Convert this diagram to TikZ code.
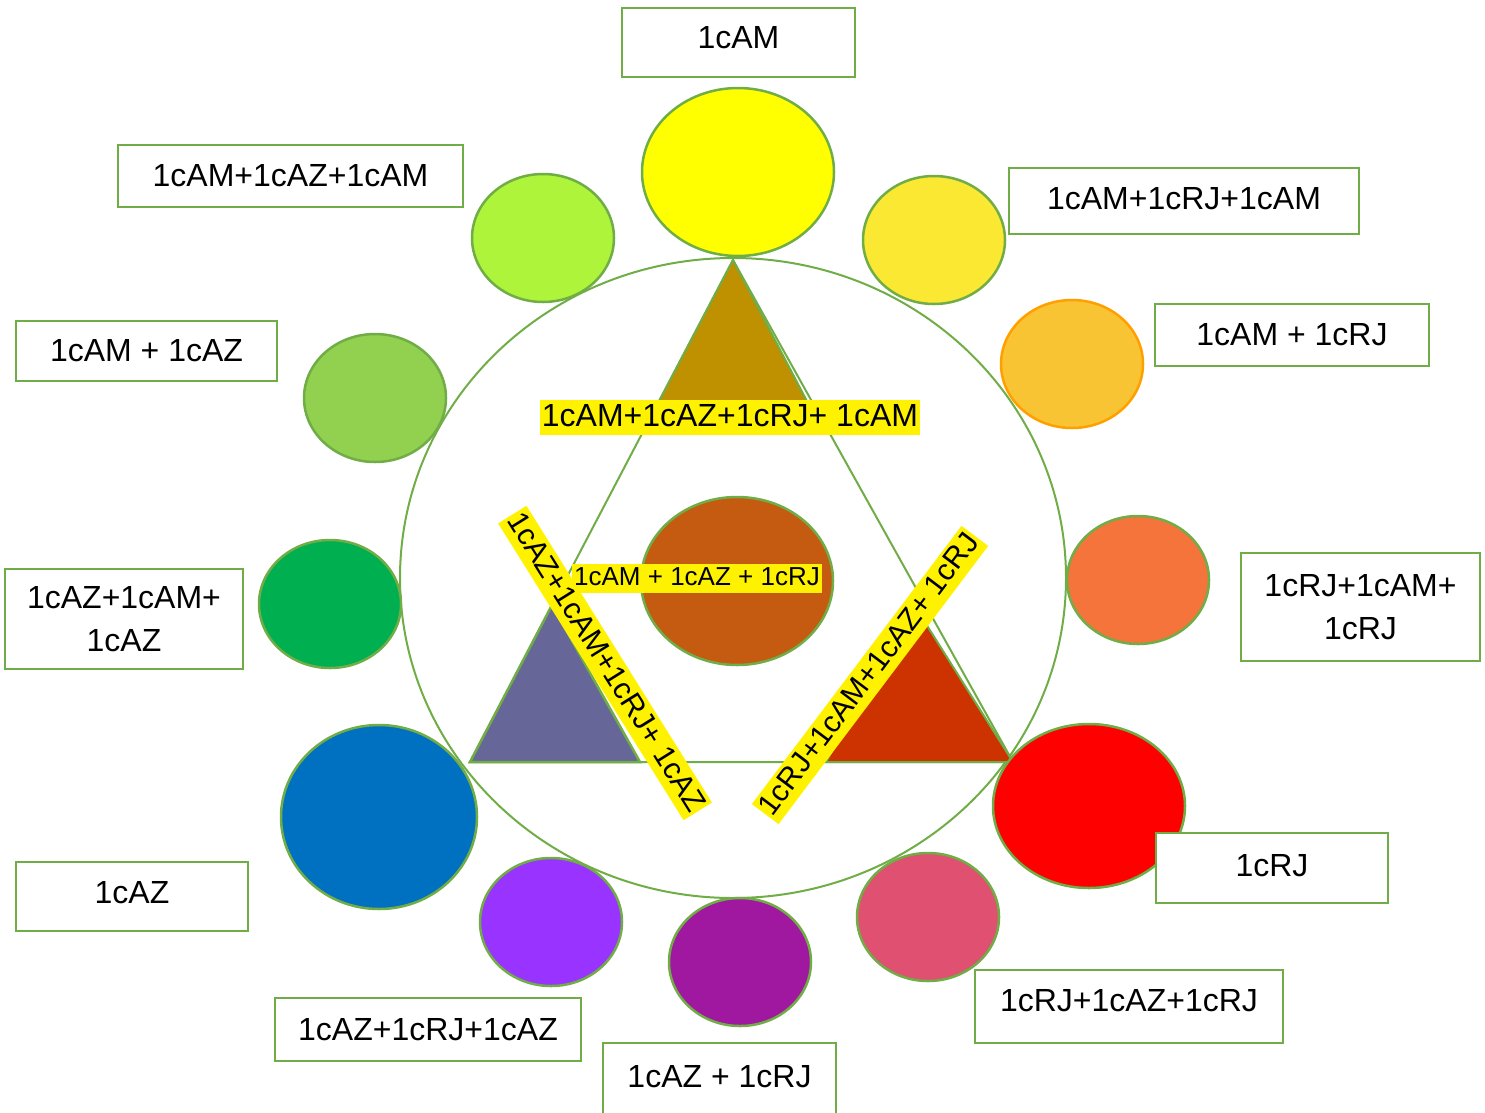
\documentclass[tikz,border=0pt]{standalone}
\usepackage{fontspec}
\setmainfont{Liberation Sans}
\usetikzlibrary{shapes.geometric}
\definecolor{leaf}{HTML}{70AD47}
\definecolor{amber}{HTML}{FFA000}
\definecolor{cam}{HTML}{FFFF00}
\definecolor{camrjam}{HTML}{FBE833}
\definecolor{camrj}{HTML}{F9C433}
\definecolor{crjamrj}{HTML}{F4743C}
\definecolor{crj}{HTML}{FF0000}
\definecolor{crjazrj}{HTML}{E05070}
\definecolor{cazrj}{HTML}{A0189F}
\definecolor{cazrjaz}{HTML}{9933FF}
\definecolor{caz}{HTML}{0070C0}
\definecolor{cazamaz}{HTML}{00B050}
\definecolor{camaz}{HTML}{92D050}
\definecolor{camazam}{HTML}{ADF43A}
\definecolor{cmix}{HTML}{C55A11}
\definecolor{olive}{HTML}{BF9000}
\definecolor{slate}{HTML}{666699}
\definecolor{brick}{HTML}{CC3300}

\begin{document}
\begin{tikzpicture}[x=1pt, y=-1pt,
colornode/.style={ellipse, draw=leaf, line width=2.5pt, inner sep=0pt, minimum width=142pt, minimum height=128pt},
labelnode/.style={rectangle, draw=leaf, fill=white, line width=2.5pt, inner sep=0pt, align=center, font=\fontsize{32}{43}\selectfont},
mixnode/.style={fill=yellow, inner sep=2pt, font=\fontsize{#1}{#1}\selectfont, text height=0.76*#1pt, text depth=0.22*#1pt},
]
\useasboundingbox (0,0) rectangle (1485,1112);

%Wheel
\node[ellipse, draw=leaf, line width=2pt, minimum width=666pt, minimum height=640pt] (wheel) at (733,578) {};
\coordinate (top) at (733,260);
\coordinate (left) at (470,762);
\coordinate (right) at (1013,762);
\draw[leaf, line width=2pt] (top) -- (left) -- (right) -- cycle;
\draw[leaf, line width=2pt, fill=olive] (top) -- (658.6,402) -- (807.4,402) -- cycle;
\draw[leaf, line width=2.5pt, fill=slate] (552,605) -- (left) -- (640,762) -- cycle;
\draw[leaf, line width=2pt, fill=brick] (914,605) -- (826,762) -- (right) -- cycle;
\node[colornode, fill=cmix, minimum width=192pt, minimum height=168pt] (mix) at (737,581) {};

%Mixes
\node[mixnode=32] (mixam) at (730,417.5) {1cAM+1cAZ+1cRJ+ 1cAM};
\node[mixnode=26] (mixall) at (697,578.5) {1cAM + 1cAZ + 1cRJ};
\node[mixnode=30, rotate=-58] (mixaz) at (605,663) {1cAZ+1cAM+1cRJ+ 1cAZ};
\node[mixnode=30, rotate=53] (mixrj) at (870,675) {1cRJ+1cAM+1cAZ+ 1cRJ};

%Nodes
\node[colornode, fill=cam, minimum width=192pt, minimum height=168pt] (am) at (738,172) {};
\node[colornode, fill=camrjam] (amrjam) at (934,240) {};
\node[colornode, fill=camrj, draw=amber] (amrj) at (1072,364) {};
\node[colornode, fill=crjamrj] (rjamrj) at (1138,580) {};
\node[colornode, fill=crj, minimum width=192pt, minimum height=164pt] (rj) at (1089,806) {};
\node[colornode, fill=crjazrj] (rjazrj) at (928,917) {};
\node[colornode, fill=cazrj] (azrj) at (740,962) {};
\node[colornode, fill=cazrjaz] (azrjaz) at (551,922) {};
\node[colornode, fill=caz, minimum width=196pt, minimum height=184pt] (az) at (379,817) {};
\node[colornode, fill=cazamaz] (azamaz) at (330,604) {};
\node[colornode, fill=camaz] (amaz) at (375,398) {};
\node[colornode, fill=camazam] (amazam) at (543,238) {};

%Labels
\node[labelnode, minimum width=233pt, minimum height=69pt, text depth=10pt] (lam) at (738.5,42.5) {1cAM};
\node[labelnode, minimum width=350pt, minimum height=66pt, text depth=6pt] (lamrjam) at (1184,201) {1cAM+1cRJ+1cAM};
\node[labelnode, minimum width=274pt, minimum height=62pt] (lamrj) at (1292,335) {1cAM + 1cRJ};
\node[labelnode, minimum width=239pt, minimum height=108pt] (lrjamrj) at (1360.5,607) {1cRJ+1cAM+\\1cRJ};
\node[labelnode, minimum width=232pt, minimum height=70pt, text depth=6pt] (lrj) at (1272,868) {1cRJ};
\node[labelnode, minimum width=308pt, minimum height=73pt, text depth=12pt] (lrjazrj) at (1129,1006.5) {1cRJ+1cAZ+1cRJ};
\node[labelnode, minimum width=233pt, minimum height=80pt, text depth=14pt] (lazrj) at (719.5,1083) {1cAZ + 1cRJ};
\node[labelnode, minimum width=306pt, minimum height=63pt] (lazrjaz) at (428,1029.5) {1cAZ+1cRJ+1cAZ};
\node[labelnode, minimum width=232pt, minimum height=69pt, text depth=8pt] (laz) at (132,896.5) {1cAZ};
\node[labelnode, minimum width=238pt, minimum height=100pt] (lazamaz) at (124,619) {1cAZ+1cAM+\\1cAZ};
\node[labelnode, minimum width=261pt, minimum height=60pt] (lamaz) at (146.5,351) {1cAM + 1cAZ};
\node[labelnode, minimum width=345pt, minimum height=62pt] (lamazam) at (290.5,176) {1cAM+1cAZ+1cAM};
\end{tikzpicture}
\end{document}
